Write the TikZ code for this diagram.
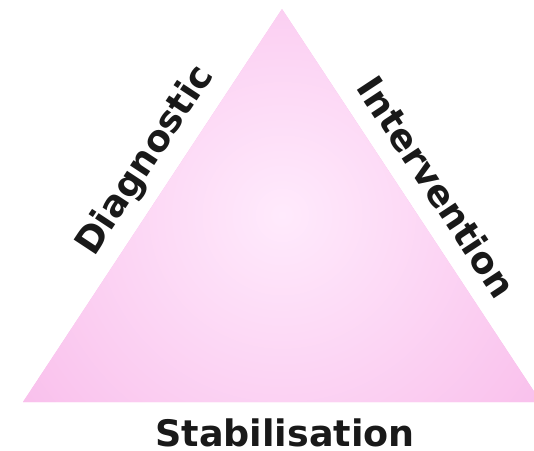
\documentclass[tikz,border=0pt]{standalone}
\usepackage{fontspec}
\setmainfont{DejaVu Sans}
\definecolor{pinkout}{RGB}{249,192,236}
\definecolor{pinkin}{RGB}{255,234,252}
\begin{document}
\begin{tikzpicture}[x=1pt,y=-1pt,
  lbl/.style={font=\bfseries\fontsize{36.5}{36.5}\selectfont, text=black!90, inner sep=0pt}]
\useasboundingbox (0,0) rectangle (534,450);
\begin{scope}
\clip (0,0) rectangle (534,450);
\path[clip] (282,9) -- (541,402) -- (23,402) -- cycle;
\fill[pinkout] (0,0) rectangle (560,450);
\shade[inner color=pinkin, outer color=pinkout]
  (282,215) circle (320);
\end{scope}
\coordinate (apex) at (282,9);
\node[lbl, rotate=56.6] (diag) at (146,161) {Diagnostic};
\node[lbl, rotate=-56.6] (inter) at (437,187) {Intervention};
\node[lbl] (stab) at (285,433) {Stabilisation};
\end{tikzpicture}
\end{document}
